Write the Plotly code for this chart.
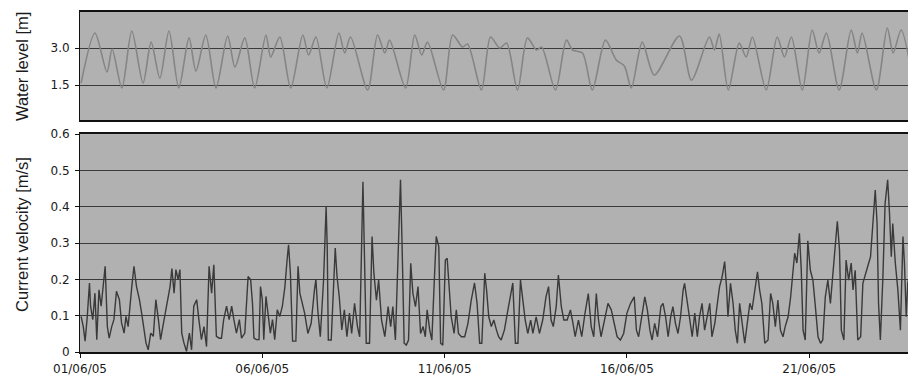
import pandas as pd
import plotly.graph_objects as go

# ---------------- data (days since 01/06/05 00:00) ----------------
wl_day = [0.03, 0.41, 0.74, 0.88, 1.15, 1.42, 1.73, 1.95, 2.19, 2.44, 2.71, 2.99, 3.18, 3.45, 3.73,
          4.05, 4.25, 4.52, 4.79, 5.10, 5.23, 5.48, 5.78, 6.11, 6.27, 6.47, 6.77, 7.10, 7.26, 7.42,
          7.89, 8.16, 8.36, 8.49, 8.93, 9.18, 9.37, 9.53, 9.97, 10.22, 10.49, 10.63, 11.01, 11.26,
          11.51, 11.70, 12.00, 12.27, 12.52, 12.66, 13.04, 13.34, 13.51, 13.78, 14.05, 14.41, 14.71,
          14.93, 15.12, 15.42, 15.75, 16.44, 16.77, 17.26, 17.40, 17.53, 17.78, 18.08, 18.27, 18.44,
          18.82, 19.12, 19.32, 19.51, 19.81, 20.08, 20.27, 20.47, 20.82, 21.15, 21.32, 21.45, 21.84,
          22.14, 22.30, 22.52, 22.85]
wl_val = [1.58, 3.61, 2.03, 2.96, 1.38, 3.69, 1.58, 3.24, 1.78, 3.69, 1.38, 3.41, 2.07, 3.53, 1.38,
          3.49, 2.23, 3.41, 1.38, 3.53, 2.64, 3.45, 1.38, 3.53, 2.72, 3.45, 1.38, 3.61, 2.80, 3.45,
          1.30, 3.53, 2.80, 3.32, 1.38, 3.53, 2.72, 3.24, 1.30, 3.53, 3.04, 3.16, 1.30, 3.45,
          3.00, 3.20, 1.30, 3.41, 2.92, 3.04, 1.30, 3.32, 2.92, 2.80, 1.30, 3.32, 2.51,
          2.27, 1.38, 3.24, 1.91, 3.49, 1.70, 3.45, 2.92, 3.57, 1.30, 3.20, 2.64, 3.45,
          1.30, 3.45, 2.64, 3.45, 1.30, 3.73, 2.80, 3.61, 1.30, 3.73, 2.80, 3.61, 1.30,
          3.81, 2.80, 3.73, 1.58]

cv_day = [0.03, 0.09, 0.14, 0.20, 0.26, 0.29, 0.35, 0.41, 0.46, 0.52, 0.58, 0.64, 0.69, 0.75, 0.80,
          0.87, 0.93, 1.00, 1.08, 1.14, 1.21, 1.26, 1.32, 1.42, 1.48, 1.55, 1.63, 1.69, 1.75, 1.81,
          1.87, 1.94, 2.01, 2.08, 2.15, 2.21, 2.28, 2.37, 2.47, 2.52, 2.58, 2.63, 2.69, 2.74, 2.79,
          2.85, 2.92, 3.00, 3.06, 3.12, 3.20, 3.26, 3.33, 3.40, 3.47, 3.54, 3.61, 3.67, 3.74, 3.82,
          3.88, 3.94, 4.02, 4.09, 4.16, 4.22, 4.29, 4.37, 4.43, 4.52, 4.61, 4.68, 4.73, 4.77, 4.84,
          4.91, 4.95, 5.00, 5.04, 5.10, 5.16, 5.22, 5.28, 5.34, 5.41, 5.48, 5.55, 5.62, 5.68, 5.72,
          5.77, 5.83, 5.92, 5.98, 6.03, 6.16, 6.25, 6.34, 6.43, 6.47, 6.52, 6.59, 6.68, 6.75, 6.78,
          6.81, 6.89, 6.96, 7.00, 7.05, 7.11, 7.18, 7.25, 7.32, 7.39, 7.45, 7.53, 7.61, 7.67, 7.76,
          7.81, 7.85, 7.94, 8.01, 8.06, 8.13, 8.19, 8.27, 8.36, 8.45, 8.52, 8.58, 8.65, 8.72, 8.79,
          8.83, 8.89, 8.95, 9.01, 9.07, 9.13, 9.20, 9.27, 9.34, 9.41, 9.47, 9.52, 9.59, 9.65, 9.71,
          9.77, 9.84, 9.89, 9.95, 10.02, 10.07, 10.14, 10.18, 10.26, 10.32, 10.38, 10.46, 10.55,
          10.64, 10.73, 10.82, 10.89, 10.96, 11.02, 11.10, 11.15, 11.21, 11.28, 11.35, 11.42, 11.48,
          11.55, 11.64, 11.72, 11.78, 11.87, 11.94, 12.01, 12.08, 12.15, 12.21, 12.28, 12.36, 12.42,
          12.51, 12.60, 12.69, 12.78, 12.85, 12.92, 12.98, 13.06, 13.12, 13.20, 13.27, 13.36, 13.45,
          13.52, 13.58, 13.67, 13.76, 13.85, 13.94, 14.02, 14.09, 14.16, 14.22, 14.29, 14.38, 14.48,
          14.57, 14.64, 14.73, 14.82, 14.91, 15.00, 15.10, 15.20, 15.26, 15.32, 15.40, 15.49, 15.56,
          15.63, 15.69, 15.76, 15.84, 15.93, 15.99, 16.06, 16.13, 16.20, 16.26, 16.33, 16.40, 16.47,
          16.54, 16.58, 16.66, 16.72, 16.79, 16.86, 16.93, 16.99, 17.06, 17.13, 17.21, 17.27, 17.33,
          17.41, 17.48, 17.54, 17.61, 17.68, 17.73, 17.77, 17.84, 17.91, 17.97, 18.03, 18.09, 18.16,
          18.23, 18.30, 18.37, 18.43, 18.50, 18.58, 18.64, 18.70, 18.78, 18.87, 18.94, 19.00, 19.07,
          19.14, 19.21, 19.28, 19.34, 19.42, 19.49, 19.55, 19.60, 19.66, 19.73, 19.78, 19.83, 19.89,
          19.96, 20.03, 20.10, 20.16, 20.24, 20.31, 20.37, 20.44, 20.51, 20.58, 20.65, 20.71, 20.77,
          20.83, 20.88, 20.95, 21.01, 21.08, 21.15, 21.20, 21.26, 21.33, 21.41, 21.47, 21.56, 21.63,
          21.68, 21.74, 21.81, 21.86, 21.90, 21.95, 22.02, 22.08, 22.15, 22.20, 22.25, 22.29, 22.36,
          22.43, 22.50, 22.57, 22.61, 22.66, 22.70, 22.78, 22.84, 22.89, 22.90]
cv_val = [0.098, 0.070, 0.030, 0.098, 0.190, 0.126, 0.089, 0.162, 0.034, 0.171, 0.126, 0.190, 0.236, 0.070, 0.038,
          0.070, 0.089, 0.167, 0.144, 0.080, 0.052, 0.098, 0.070, 0.180, 0.236, 0.180, 0.144, 0.107, 0.070, 0.025,
          0.006, 0.052, 0.043, 0.144, 0.089, 0.034, 0.075, 0.126, 0.180, 0.230, 0.162, 0.227, 0.199, 0.227, 0.052,
          0.025, 0.002, 0.052, 0.006, 0.126, 0.144, 0.089, 0.034, 0.070, 0.015, 0.236, 0.162, 0.240, 0.043, 0.038,
          0.038, 0.089, 0.126, 0.089, 0.126, 0.089, 0.052, 0.089, 0.038, 0.052, 0.208, 0.199, 0.135, 0.038, 0.034,
          0.034, 0.180, 0.144, 0.034, 0.153, 0.107, 0.052, 0.089, 0.034, 0.116, 0.098, 0.126, 0.180, 0.254, 0.295,
          0.217, 0.030, 0.030, 0.236, 0.162, 0.107, 0.051, 0.079, 0.171, 0.200, 0.116, 0.042, 0.198, 0.400, 0.290,
          0.033, 0.033, 0.198, 0.286, 0.207, 0.152, 0.061, 0.116, 0.042, 0.107, 0.051, 0.134, 0.070, 0.042, 0.469,
          0.198, 0.024, 0.024, 0.318, 0.217, 0.143, 0.198, 0.088, 0.042, 0.125, 0.070, 0.125, 0.033, 0.244, 0.474,
          0.308, 0.024, 0.019, 0.033, 0.244, 0.161, 0.125, 0.180, 0.051, 0.070, 0.042, 0.116, 0.061, 0.033, 0.180,
          0.318, 0.290, 0.024, 0.019, 0.253, 0.258, 0.161, 0.097, 0.051, 0.116, 0.051, 0.042, 0.042,
          0.079, 0.143, 0.190, 0.134, 0.024, 0.024, 0.217, 0.171, 0.097, 0.070, 0.088, 0.061, 0.042,
          0.033, 0.061, 0.107, 0.143, 0.190, 0.024, 0.024, 0.198, 0.143, 0.088, 0.051, 0.088, 0.051,
          0.097, 0.051, 0.088, 0.152, 0.180, 0.088, 0.070, 0.125, 0.212, 0.125, 0.088, 0.088, 0.116,
          0.079, 0.042, 0.088, 0.042, 0.107, 0.161, 0.070, 0.042, 0.161, 0.088, 0.042, 0.088, 0.134,
          0.116, 0.079, 0.042, 0.033, 0.051, 0.107, 0.134, 0.152, 0.060, 0.042, 0.097, 0.152, 0.116,
          0.060, 0.033, 0.079, 0.042, 0.125, 0.134, 0.097, 0.042, 0.097, 0.125, 0.079, 0.051, 0.097,
          0.170, 0.189, 0.134, 0.097, 0.042, 0.107, 0.042, 0.097, 0.134, 0.060, 0.097, 0.134, 0.042,
          0.079, 0.134, 0.180, 0.207, 0.249, 0.180, 0.097, 0.189, 0.134, 0.060, 0.024, 0.134, 0.079,
          0.024, 0.079, 0.134, 0.116, 0.170, 0.221, 0.170, 0.134, 0.024, 0.033, 0.161, 0.134, 0.070,
          0.143, 0.060, 0.042, 0.070, 0.097, 0.152, 0.217, 0.272, 0.245, 0.327, 0.227, 0.060, 0.033,
          0.306, 0.225, 0.198, 0.134, 0.042, 0.024, 0.033, 0.152, 0.198, 0.134, 0.225, 0.290, 0.360,
          0.281, 0.060, 0.033, 0.253, 0.198, 0.245, 0.171, 0.225, 0.033, 0.042, 0.189, 0.225, 0.245,
          0.262, 0.354, 0.446, 0.354, 0.134, 0.033, 0.207, 0.409, 0.474, 0.383, 0.262, 0.354, 0.245,
          0.171, 0.060, 0.318, 0.245, 0.097, 0.189, 0.227, 0.427, 0.538, 0.340]

tick_dates = ["2005-06-01", "2005-06-06", "2005-06-11", "2005-06-16", "2005-06-21"]
tick_labels = ["01/06/05", "06/06/05", "11/06/05", "16/06/05", "21/06/05"]
wl_ticks = [1.5, 3.0]
wl_tick_labels = ["1.5", "3.0"]
cv_ticks = [0, 0.1, 0.2, 0.3, 0.4, 0.5, 0.6]
cv_tick_labels = ["0", "0.1", "0.2", "0.3", "0.4", "0.5", "0.6"]

# ---------------- build ----------------
base = pd.Timestamp("2005-06-01")
wl_x = base + pd.to_timedelta(wl_day, unit="D")
cv_x = base + pd.to_timedelta(cv_day, unit="D")
x_end = base + pd.to_timedelta(22.9, unit="D")

fig = go.Figure()
fig.add_trace(go.Scatter(x=wl_x, y=wl_val, mode="lines", xaxis="x", yaxis="y",
                         line=dict(color="#858585", width=1.6, shape="spline", smoothing=0.8),
                         showlegend=False, hoverinfo="skip"))
fig.add_trace(go.Scatter(x=cv_x, y=cv_val, mode="lines", xaxis="x2", yaxis="y2",
                         line=dict(color="#3a3a3a", width=1.4),
                         showlegend=False, hoverinfo="skip"))

tick_font = dict(family="DejaVu Sans, Arial, sans-serif", size=12, color="#1a1a1a")
title_font = dict(family="Liberation Sans, Arial, sans-serif", size=16.5, color="#1a1a1a")
grid_col = "#3a3a3a"
bg = "#b1b1b1"

# the page body adds an 8px offset, so the figure is sized to fit inside the window
fig.update_layout(
    width=908, height=371,
    margin=dict(l=72, r=1, t=4, b=27, autoexpand=False),
    paper_bgcolor="white", plot_bgcolor=bg,
    xaxis=dict(domain=[0, 1], anchor="y", range=[base, x_end], showticklabels=False,
               showgrid=False, zeroline=False, showline=True, mirror=True, automargin=False,
               linecolor="#111111", linewidth=2, ticks=""),
    yaxis=dict(domain=[0.682, 1.0], anchor="x", range=[0.08, 4.46], automargin=False,
               tickvals=wl_ticks, ticktext=wl_tick_labels, tickfont=tick_font,
               showgrid=True, gridcolor=grid_col, gridwidth=1, zeroline=False,
               showline=True, linecolor="#111111", linewidth=1,
               ticks="outside", ticklen=4, tickcolor="#111111", ticklabelstandoff=3),
    xaxis2=dict(domain=[0, 1], anchor="y2", range=[base, x_end], automargin=False,
                tickvals=tick_dates, ticktext=tick_labels, tickfont=tick_font,
                showgrid=False, zeroline=False, showline=True, mirror=True,
                linecolor="#111111", linewidth=2,
                ticks="outside", ticklen=4, tickcolor="#111111", ticklabelstandoff=1),
    yaxis2=dict(domain=[0, 0.641], anchor="x2", range=[0, 0.6], automargin=False,
                tickvals=cv_ticks, ticktext=cv_tick_labels, tickfont=tick_font,
                showgrid=True, gridcolor=grid_col, gridwidth=1, zeroline=False,
                showline=True, linecolor="#111111", linewidth=1,
                ticks="outside", ticklen=4, tickcolor="#111111", ticklabelstandoff=3),
    annotations=[
        dict(text="Water level [m]", xref="paper", yref="paper", x=0, y=0.838,
             xshift=-58, textangle=-90, showarrow=False, xanchor="center", yanchor="middle",
             borderpad=0, font=title_font),
        dict(text="Current velocity [m/s]", xref="paper", yref="paper", x=0, y=0.344,
             xshift=-58, textangle=-90, showarrow=False, xanchor="center", yanchor="middle",
             borderpad=0, font=title_font),
    ],
)

fig.write_html("out.html")
